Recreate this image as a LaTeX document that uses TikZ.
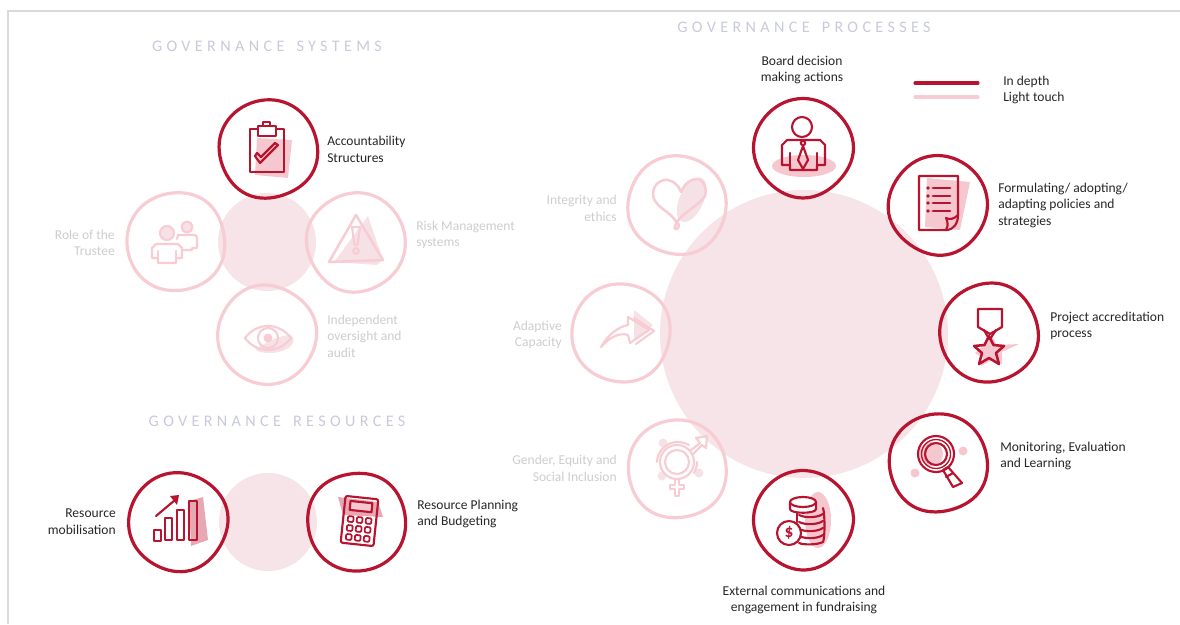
\documentclass[tikz,border=0pt]{standalone}
\usepackage{fontspec}
\setmainfont{Carlito}
\newfontfamily\ttlfont[LetterSpace=27]{Carlito}
\definecolor{deep}{HTML}{B8142F}
\definecolor{softdeep}{HTML}{F5C8CF}
\definecolor{midsoft}{HTML}{E6A9B4}
\definecolor{pale}{HTML}{F7CCD2}
\definecolor{palesoft}{HTML}{F6E2E6}
\definecolor{disc}{HTML}{F6E4E8}
\definecolor{ttl}{HTML}{C8CADB}
\definecolor{faded}{HTML}{CDCDCD}
\definecolor{ink}{HTML}{262626}
\definecolor{framec}{HTML}{DADADA}
\tikzset{
  ring/.style={draw=ic,line width=2.4pt,line join=round},
  icon/.style={draw=ic,line width=1.6pt,line join=round,line cap=round},
  softfill/.style={fill=sh,draw=none},
  lab/.style={font=\fontsize{10.15pt}{12.4pt}\selectfont,inner sep=0pt,text=ink,yshift=-0.7pt},
  lableft/.style={lab,anchor=west,align=left},
  labright/.style={lab,anchor=east,align=right},
  labmid/.style={lab,anchor=center,align=center},
  dim/.style={text=faded},
  titlelab/.style={font=\fontsize{12.1pt}{13pt}\ttlfont,text=ttl,inner sep=0pt,anchor=center},
  bgdisc/.style={fill=disc,draw=none},
}
\newcommand\wobring{%
  \draw[ring] plot[smooth cycle,tension=.68] coordinates {
    (0:49) (45:50.5) (90:48.5) (135:50) (180:48.5) (225:49.5) (270:49) (315:49.5)};}
\newcommand\placeicon[5]{%
  \begin{scope}[shift={(#1,#2)}]
    \ifx#4d\colorlet{ic}{deep}\colorlet{sh}{softdeep}\else\colorlet{ic}{pale}\colorlet{sh}{palesoft}\fi
    #5
    \begin{scope}[rotate=#3]\wobring\end{scope}
  \end{scope}}
\newcommand\iconclip{%
  \fill[softfill] (-11,-11)--(24,-9)--(20,29)--(-13,26)--cycle;
  \draw[icon] (-18,-20) rectangle (16,23);
  \draw[icon,fill=white] (-10,-23) rectangle (8,-13);
  \draw[icon] (-5,-23)--(-5,-27)--(2,-27)--(2,-23);
  \draw[icon] (-13,7)--(-8,14)--(10,-4)--(7,-6)--(-7,8)--(-11,4)--cycle;}
\newcommand\iconteam{%
  \fill[softfill] (11,-15) circle[radius=5];
  \fill[softfill] (-9,-9) circle[radius=6.5];
  \draw[icon] (11,-15) circle[radius=5.5];
  \draw[icon] (2,-7)--(19,-7)--(21,-5)--(21,6)--(16,6)--(16,8)--(6,8);
  \draw[icon] (2,-7)--(1,-3);
  \draw[icon] (-9,-9) circle[radius=7];
  \draw[icon,fill=white] (-24,16)--(-24,6)--(-20,2)--(2,2)--(6,6)--(6,16)--(0,16)--(0,21)--(-18,21)--(-18,16)--cycle;
  \draw[icon] (-18,16)--(-18,9) (0,16)--(0,9);}
\newcommand\iconwarn{%
  \fill[softfill] (12,-26)--(27,18)--(21,23)--(-22,20)--cycle;
  \draw[icon,line width=1.9pt] (0,-27)--(27,18)--(-27,20)--cycle;
  \draw[icon] (-4,-15)--(4,-15)--(1.5,3)--(-1.5,3)--cycle;
  \draw[icon] (0,9) circle[radius=2.8];}
\newcommand\iconeye{%
  \fill[softfill] (-12,14) .. controls (5,4) and (15,0) .. (24,0) .. controls (32,8) and (20,17) .. (5,18) .. controls (-5,18) and (-10,17) .. (-12,14)--cycle;
  \draw[icon] (-22,3) .. controls (-10,-13) and (12,-13) .. (24,3) .. controls (12,19) and (-10,19) .. (-22,3)--cycle;
  \draw[icon] (1,3) circle[radius=10];
  \fill[ic] (1,3) circle[radius=4.5];}
\newcommand\iconperson{%
  \fill[softfill] (1,18) ellipse[x radius=32,y radius=11];
  \draw[icon] (-1,-21) circle[radius=10];
  \draw[icon] (-21,17)--(-21,-3)--(-16,-8)--(17,-8)--(22,-3)--(22,17)--(14,17)--(14,22)--(-13,22)--(-13,17)--cycle;
  \draw[icon] (-13,17)--(-13,5) (14,17)--(14,5);
  \draw[icon] (0,-5) circle[radius=2.2];
  \draw[icon] (0,-2)--(-5,12)--(0,21)--(5,12)--cycle;}
\newcommand\icondoc{%
  \fill[softfill] (-11,-27)--(32,-23)--(22,25)--(-13,22)--cycle;
  \draw[icon] (20,10)--(20,-29)--(-19,-29)--(-19,25)--(8,25) .. controls (16,25) and (20,18) .. (20,10);
  \draw[icon] (8,25) .. controls (11,20) and (9,15) .. (8,13) .. controls (12,15) and (16,14) .. (20,10);
  \foreach \yy in {-17,-9,-2,6}{
    \draw[icon,line width=2.2pt] (-5,\yy)--(12,\yy);
    \fill[ic] (-10,\yy) circle[radius=1.8];}}
\newcommand\iconmedal{%
  \fill[softfill] (-14,20)--(-6,13)--(3,3)--(8,12)--(30,11)--(13,19)--(13,31)--(3,27)--(-8,33)--(-6,25)--cycle;
  \draw[icon,line width=1.7pt] (-11,-24)--(13,-24)--(13,-6)--(1,1)--(-11,-6)--cycle;
  \draw[icon] (-5,-3)--(0,6) (7,-3)--(1,6);
  \draw[icon,line width=1.9pt] (0,3)--(4.5,12)--(15,13)--(7,20)--(10,31)--(0,25)--(-10,31)--(-7,20)--(-15,13)--(-4.5,12)--cycle;}
\newcommand\iconglass{%
  \fill[softfill] (-7,-9) circle[radius=12];
  \fill[softfill] (25,-12) circle[radius=4.5];
  \fill[softfill] (-23,10) circle[radius=4.5];
  \draw[icon] (-2,-9) circle[radius=18];
  \draw[icon,line width=1pt] (-2,-9) circle[radius=14.5];
  \draw[icon] (-2,-9) circle[radius=11];
  \draw[icon] (5,7)--(10,4)--(24,20)--(15,24)--cycle;
  \draw[icon] (8,14)--(15,10);}
\newcommand\iconcoins{%
  \fill[softfill] (15,0) ellipse[x radius=13,y radius=28];
  \draw[icon] (-6,-10)--(-6,2);
  \draw[icon] (20,-12) .. controls (22,-6) and (22,18) .. (20,22) .. controls (14,25) and (0,25) .. (-4,23);
  \foreach \yy in {-5,2,9,16}{
    \draw[icon] (-4,\yy) .. controls (2,\yy+3) and (14,\yy+3) .. (20,\yy-1);}
  \draw[icon,fill=white] (-13,-18)--(-13,-11) .. controls (-13,-6) and (13,-6) .. (13,-11)--(13,-18);
  \draw[icon,fill=white] (0,-18) ellipse[x radius=13,y radius=5];
  \draw[icon,fill=white] (-14,13) circle[radius=12];
  \node[inner sep=0pt,text=ic,font=\fontsize{13pt}{13pt}\bfseries\selectfont] (dollarsign) at (-14,13) {\$};}
\newcommand\icongender{%
  \fill[softfill] (-14,-26) circle[radius=4.5];
  \fill[softfill] (22,4) circle[radius=4.5];
  \fill[softfill] (-15,7) circle[radius=4.5];
  \draw[icon] (0,-7) circle[radius=17];
  \draw[icon] (0,-7) circle[radius=12];
  \draw[icon] (-20,-7) .. controls (-20,-18) and (-10,-27) .. (0,-27) .. controls (4,-27) and (8,-26) .. (12,-24);
  \draw[icon] (20,-7) .. controls (20,-3) and (19,0) .. (17,4);
  \draw[icon] (-2,10)--(-2,16)--(-7,16)--(-7,20)--(-2,20)--(-2,27)--(2,27)--(2,20)--(7,20)--(7,16)--(2,16)--(2,10);
  \draw[icon] (13,-18)--(23,-26)--(19,-31)--(30,-33)--(29,-21)--(25,-24)--(16,-15);}
\newcommand\iconarrow{%
  \fill[softfill] (13,-23)--(32,-8)--(13,8)--cycle;
  \draw[icon] (-20,14) .. controls (-12,0) and (-2,-6) .. (7,-8)--(7,-16)--(28,-3)--(9,10)--(7,2) .. controls (-2,-1) and (-12,5) .. (-20,14)--cycle;
  \draw[icon] (13,-15)--(33,-2)--(15,11);}
\newcommand\iconheart{%
  \fill[softfill,rotate=-25] (11,-11) ellipse[x radius=12,y radius=24];
  \draw[icon,line width=1.9pt] (0,18) .. controls (-6,6) and (-24,2) .. (-24,-11) .. controls (-24,-22) and (-14,-26) .. (-9,-25) .. controls (-3,-24) and (2,-19) .. (4,-13) .. controls (8,-22) and (14,-26) .. (20,-26) .. controls (28,-25) and (30,-15) .. (28,-9) .. controls (24,-2) and (10,6) .. (2,14) .. controls (-2,20) and (-4,24) .. (-1,24) .. controls (2,24) and (3,18) .. (0,18)--cycle;}
\newcommand\iconbars{%
  \fill[midsoft] (11,-21)--(25,-25)--(30,18)--(13,24)--cycle;
  \draw[icon] (-24,8) rectangle (-17,19);
  \draw[icon] (-13,-4) rectangle (-6,18);
  \draw[icon] (-1,-12) rectangle (6,18);
  \draw[icon] (11,-21) rectangle (19,18);
  \draw[icon] (-22,-6)--(-3,-22);
  \fill[ic] (-8,-26)--(1,-27)--(-1,-17)--cycle;}
\newcommand\iconcalc{%
  \fill[midsoft] (-19,-25)--(21,-20)--(26,-5)--(-14,-7)--cycle;
  \begin{scope}[shift={(2.5,-1)},rotate=-6]
    \draw[icon,rounded corners=1.5pt] (-16.5,-23.5) rectangle (16.5,23.5);
    \draw[icon,fill=sh] (-11,-19) rectangle (11,-10);
    \foreach \xx in {-9,0,9}\foreach \yy in {-1,8,17}{
      \draw[icon,line width=1.3pt,rounded corners=.8pt] (\xx-2.8,\yy-2.8) rectangle (\xx+2.8,\yy+2.8);}
  \end{scope}}
\begin{document}
\begin{tikzpicture}[x=0.75pt,y=-0.75pt]
\useasboundingbox (0,0) rectangle (1180,624);
\draw[framec,line width=.9pt] (8,624)--(8,11)--(1180,11);
% discs
\fill[bgdisc] (267,242) circle[radius=49];
\fill[bgdisc] (268,522) circle[radius=49];
\fill[bgdisc] (804,334) circle[radius=144];
% titles
\node[titlelab] (t1) at (267,46) {GOVERNANCE\hspace{.75em}SYSTEMS};
\node[titlelab] (t2) at (277,421) {GOVERNANCE\hspace{.75em}RESOURCES};
\node[titlelab] (t3) at (804,27) {GOVERNANCE\hspace{.75em}PROCESSES};
% rings and icons
\placeicon{268}{149}{20}{d}{\iconclip}
\placeicon{176}{242}{100}{l}{\iconteam}
\placeicon{356}{242}{-60}{l}{\iconwarn}
\placeicon{267}{335}{150}{l}{\iconeye}
\placeicon{178}{522}{60}{d}{\iconbars}
\placeicon{357}{522}{190}{d}{\iconcalc}
\placeicon{803}{148}{45}{d}{\iconperson}
\placeicon{938}{205}{-35}{d}{\icondoc}
\placeicon{989}{333}{115}{d}{\iconmedal}
\placeicon{938}{463}{15}{d}{\iconglass}
\placeicon{803}{520}{48}{d}{\iconcoins}
\placeicon{677}{469}{10}{l}{\icongender}
\placeicon{621}{333}{75}{l}{\iconarrow}
\placeicon{677}{205}{-20}{l}{\iconheart}
% legend
\coordinate (la) at (915,83); \coordinate (lb) at (978,83);
\coordinate (lc) at (915,97); \coordinate (ld) at (978,97);
\draw[deep,line width=2.3pt,line cap=round] (la)--(lb);
\draw[pale,line width=2.3pt,line cap=round] (lc)--(ld);
\node[lableft] (k1) at (1003,81) {In depth};
\node[lableft] (k2) at (1003,97) {Light touch};
% labels
\node[lableft] (a1) at (327,148.5) {Accountability\\Structures};
\node[labright,dim] (a2) at (115,242) {Role of the\\Trustee};
\node[lableft,dim] (a3) at (416,234) {Risk Management\\systems};
\node[lableft,dim] (a4) at (327,335) {Independent\\oversight and\\audit};
\node[labright] (a5) at (116,521) {Resource\\mobilisation};
\node[lableft] (a6) at (417,513) {Resource Planning\\and Budgeting};
\node[labmid] (p1) at (802,69) {Board decision\\making actions};
\node[lableft] (p2) at (998,204.5) {Formulating/ adopting/\\adapting policies and\\strategies};
\node[lableft] (p3) at (1050,325) {Project accreditation\\process};
\node[lableft] (p4) at (1000,455) {Monitoring, Evaluation\\and Learning};
\node[labmid] (p5) at (804,599) {External communications and\\engagement in fundraising};
\node[labright,dim] (p6) at (617,467.5) {Gender, Equity and\\Social Inclusion};
\node[labright,dim] (p7) at (562,334) {Adaptive\\Capacity};
\node[labright,dim] (p8) at (617,207.5) {Integrity and\\ethics};
\end{tikzpicture}
\end{document}
